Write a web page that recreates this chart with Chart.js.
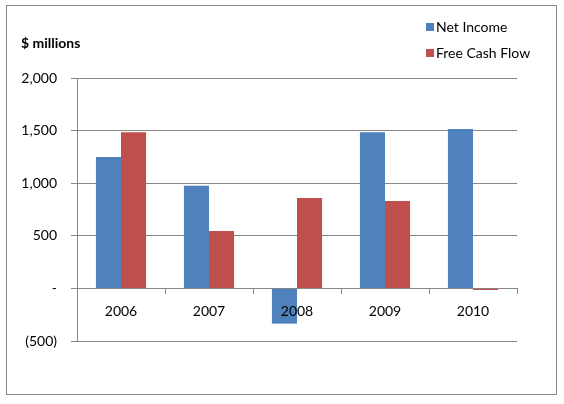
<!DOCTYPE html>
<html>
<head>
<meta charset="utf-8">
<script src="https://cdn.jsdelivr.net/npm/chart.js@4"></script>
<style>
  html, body { margin: 0; padding: 0; background: #fff; }
  #wrap { width: 564px; height: 404px; position: relative; }
</style>
</head>
<body>
<div id="wrap"><canvas id="c"></canvas></div>
<script>
// Net Income vs Free Cash Flow, $ millions
const years = ['2006', '2007', '2008', '2009', '2010']
const netIncome = [1250, 975, -335, 1485, 1515]
const freeCashFlow = [1485, 545, 860, 830, -15]
const yTicks = [-500, 0, 500, 1000, 1500, 2000]

const FONT = 'Lato, "Open Sans", sans-serif'
const GRID = '#878787'

function fmt (v) {
  if (v === 0) return '-'
  const s = Math.abs(v).toLocaleString('en-US')
  return v < 0 ? '(' + s + ')' : s
}

// frame, unit label and legend, drawn around the plot
const decor = {
  id: 'decor',
  beforeDraw (chart) {
    const ctx = chart.ctx
    ctx.save()
    ctx.fillStyle = '#fff'
    ctx.fillRect(0, 0, chart.width, chart.height)
    ctx.strokeStyle = GRID
    ctx.lineWidth = 1
    ctx.strokeRect(6.5, 5.5, 550, 389)
    ctx.restore()
  },
  afterDraw (chart) {
    const ctx = chart.ctx
    ctx.save()
    ctx.fillStyle = '#000'
    ctx.textBaseline = 'middle'
    ctx.font = 'bold 14px ' + FONT
    ctx.fillText('$ millions', 21, 43)
    ctx.font = '14px ' + FONT
    chart.data.datasets.forEach((ds, i) => {
      const y = 27 + i * 26
      ctx.fillStyle = ds.backgroundColor
      ctx.fillRect(426, y - 4, 8, 8)
      ctx.fillStyle = '#000'
      ctx.fillText(ds.label, 436, y)
    })
    ctx.restore()
  }
}

new Chart(document.getElementById('c'), {
  type: 'bar',
  data: {
    labels: years,
    datasets: [
      { label: 'Net Income', data: netIncome, backgroundColor: '#4F81BD' },
      { label: 'Free Cash Flow', data: freeCashFlow, backgroundColor: '#C0504D' }
    ]
  },
  options: {
    responsive: true,
    maintainAspectRatio: false,
    animation: false,
    devicePixelRatio: 1,
    categoryPercentage: 0.57,
    barPercentage: 1,
    layout: { padding: { left: 0, top: 78, right: 47, bottom: 63 } },
    plugins: { legend: { display: false }, tooltip: { enabled: false } },
    scales: {
      x: {
        position: { y: 0 },
        grid: { drawOnChartArea: false, drawTicks: true, tickLength: 5, color: GRID, offset: true },
        border: { display: true, color: GRID },
        ticks: { z: 1, color: '#000', font: { family: FONT, size: 14 }, padding: 10 }
      },
      y: {
        min: -500,
        max: 2000,
        afterBuildTicks: s => { s.ticks = yTicks.map(v => ({ value: v })) },
        afterFit: s => { s.width = 77 },
        grid: { color: GRID, tickLength: 6 },
        border: { display: true, color: GRID },
        ticks: { color: '#000', font: { family: FONT, size: 14 }, padding: 14, callback: v => fmt(v) }
      }
    }
  },
  plugins: [decor]
})
</script>
</body>
</html>
